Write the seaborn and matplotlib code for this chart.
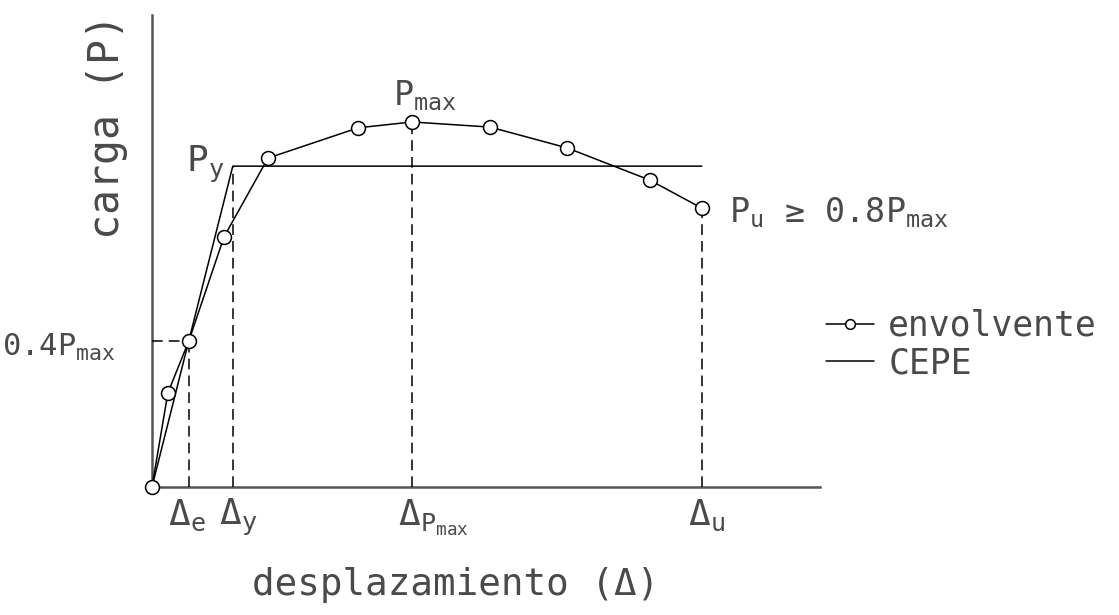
import matplotlib
matplotlib.use('Agg')
import matplotlib.pyplot as plt
import pandas as pd
import seaborn as sns

# envolvente (load-displacement envelope), arbitrary units
env_x = [0.0, 0.29, 0.67, 1.31, 2.11, 3.75, 4.73, 6.15, 7.55, 9.05, 10.0]
env_y = [0.0, 25.8, 40.0, 68.5, 90.1, 98.4, 100.0, 98.6, 92.9, 84.1, 76.4]

# CEPE (equivalent elastic-plastic curve)
cepe_x = [0.0, 1.47, 10.0]
cepe_y = [0.0, 87.9, 87.9]

# characteristic points
d_e, d_y, d_pmax, d_u = 0.67, 1.47, 4.73, 10.0
p_04, p_y, p_max, p_u = 40.0, 87.9, 100.0, 76.4

sns.set_style('white')
plt.rcParams['font.family'] = ['DejaVu Sans Mono', 'DejaVu Sans']
plt.rcParams['mathtext.default'] = 'regular'

fig = plt.figure(figsize=(11.19, 6.15), dpi=100)
ax = fig.add_axes([0.1358, 0.2081, 0.597, 0.7675])

env = pd.DataFrame({'x': env_x, 'y': env_y})
cepe = pd.DataFrame({'x': cepe_x, 'y': cepe_y})

sns.lineplot(data=cepe, x='x', y='y', sort=False, color='black', lw=1.1,
             ax=ax, label='CEPE')
sns.lineplot(data=env, x='x', y='y', sort=False, color='black', lw=1.1,
             marker='o', markersize=10, markerfacecolor='white',
             markeredgecolor='black', markeredgewidth=1.1, ax=ax,
             label='envolvente', zorder=4, clip_on=False)
h, l = ax.get_legend_handles_labels()
ax.get_legend().remove()

dash = dict(color='black', lw=1.1, linestyles=(0, (7, 4)))
ax.vlines([d_e], 0, p_04, **dash)
ax.vlines([d_y], 0, p_y, **dash)
ax.vlines([d_pmax], 0, p_max, **dash)
ax.vlines([d_u], 0, p_u, **dash)
ax.hlines([p_04], 0, d_e, **dash)

ax.set_xlim(0, 12.15)
ax.set_ylim(0, 129.3)
ax.set_xticks([])
ax.set_yticks([])
ax.set_xlabel('')
ax.set_ylabel('')
for s in ['top', 'right']:
    ax.spines[s].set_visible(False)
for s in ['left', 'bottom']:
    ax.spines[s].set_color('#555555')
    ax.spines[s].set_linewidth(1.8)
    ax.spines[s].set_zorder(1)

tc = '#4a4a4a'
fs = 24

fig.text(0.0956, 0.7935, 'carga (P)', rotation=90, fontsize=30,
         ha='center', va='center', color=tc)
fig.text(0.4075, 0.0488, 'desplazamiento (Δ)', fontsize=27,
         ha='center', va='center', color=tc)


def px(x, y):
    # pixel position in the picture -> data coords (for label placement)
    return (x - 152) / 55.0, (487 - y) / 3.65


ax.text(*px(186, 172), '$P_y$', fontsize=fs + 2, ha='left', va='baseline',
        color=tc)
ax.text(*px(393, 105), '$P_{max}$', fontsize=fs, ha='left', va='baseline',
        color=tc)
ax.text(*px(729, 222), '$P_u$ ≥ 0.8$P_{max}$', fontsize=fs, ha='left',
        va='baseline', color=tc)
ax.text(*px(116, 356), '0.4$P_{max}$', fontsize=22, ha='right',
        va='baseline', color=tc)
for xp, lab in [(168, 'Δ$_e$'), (219, 'Δ$_y$'), (398, 'Δ$_{P_{max}}$'),
                (688, 'Δ$_u$')]:
    ax.text(*px(xp, 525), lab, fontsize=fs + 2, ha='left', va='baseline',
            color=tc)

leg = fig.legend(h[::-1], l[::-1], loc='center left',
                 bbox_to_anchor=(0.71, 0.44), frameon=False,
                 fontsize=25, handlelength=1.4, labelspacing=0.1,
                 handletextpad=0.4)
for t in leg.get_texts():
    t.set_color(tc)
for hd in leg.legend_handles:
    hd.set_markersize(7)

fig.savefig('out.png', dpi=100)
